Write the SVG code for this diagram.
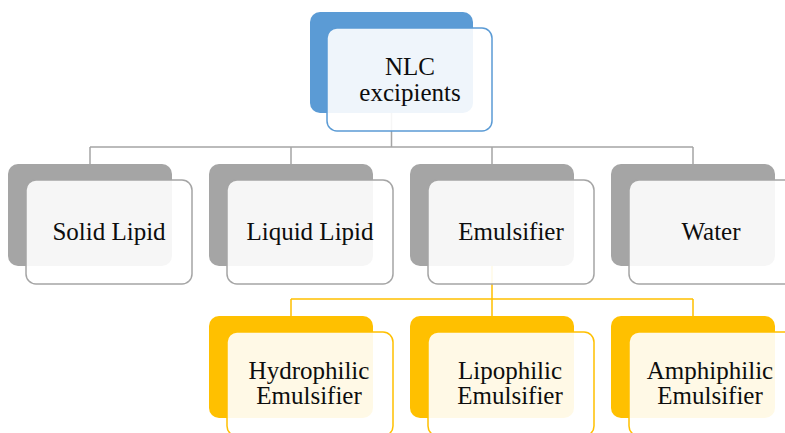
<svg xmlns="http://www.w3.org/2000/svg" width="785" height="433" viewBox="0 0 785 433">
  <style>
    .back { stroke: none; }
    .front { fill: #ffffff; fill-opacity: 0.9; stroke-width: 1.5; }
    .blue .back { fill: #5b9bd5; }
    .blue .front { stroke: #5b9bd5; }
    .grey .back { fill: #a5a5a5; }
    .grey .front { stroke: #a5a5a5; }
    .gold .back { fill: #ffc000; }
    .gold .front { stroke: #ffc000; }
    .conn { fill: none; stroke-width: 1.5; }
    .conn.grey-line { stroke: #a5a5a5; }
    .conn.gold-line { stroke: #ffc000; }
  </style>

  <!-- connectors -->
  <g id="connectors">
    <path class="conn grey-line" d="M391.5 113 V147 M90 147 H693 M90 147 V164 M291 147 V164 M492 147 V164 M693 147 V164"/>
    <path class="conn gold-line" d="M492 266 V299 M291 299 H693 M291 299 V316 M492 299 V316 M693 299 V316"/>
  </g>

  <g font-family="Liberation Serif, Times New Roman, serif" font-size="25" fill="#0d0d0d" text-anchor="middle">
    <!-- root -->
    <g id="node-nlc" class="blue">
      <rect class="back" x="310" y="12" width="163" height="101" rx="10"/>
      <rect class="front" x="327" y="28" width="165" height="103" rx="10"/>
      <text x="410" y="75">NLC</text>
      <text x="410" y="101">excipients</text>
    </g>

    <!-- second level -->
    <g id="node-solid-lipid" class="grey">
      <rect class="back" x="8" y="164" width="164" height="102" rx="10"/>
      <rect class="front" x="26" y="180" width="166" height="104" rx="10"/>
      <text x="109" y="240">Solid Lipid</text>
    </g>
    <g id="node-liquid-lipid" class="grey">
      <rect class="back" x="209" y="164" width="164" height="102" rx="10"/>
      <rect class="front" x="227" y="180" width="166" height="104" rx="10"/>
      <text x="310" y="240">Liquid Lipid</text>
    </g>
    <g id="node-emulsifier" class="grey">
      <rect class="back" x="410" y="164" width="164" height="102" rx="10"/>
      <rect class="front" x="428" y="180" width="166" height="104" rx="10"/>
      <text x="511" y="240">Emulsifier</text>
    </g>
    <g id="node-water" class="grey">
      <rect class="back" x="611" y="164" width="164" height="102" rx="10"/>
      <rect class="front" x="629" y="180" width="166" height="104" rx="10"/>
      <text x="711" y="240">Water</text>
    </g>

    <!-- emulsifier types -->
    <g id="node-hydrophilic" class="gold">
      <rect class="back" x="209" y="316" width="164" height="102" rx="10"/>
      <rect class="front" x="227" y="332" width="166" height="104" rx="10"/>
      <text x="309" y="379">Hydrophilic</text>
      <text x="309" y="404">Emulsifier</text>
    </g>
    <g id="node-lipophilic" class="gold">
      <rect class="back" x="410" y="316" width="164" height="102" rx="10"/>
      <rect class="front" x="428" y="332" width="166" height="104" rx="10"/>
      <text x="510" y="379">Lipophilic</text>
      <text x="510" y="404">Emulsifier</text>
    </g>
    <g id="node-amphiphilic" class="gold">
      <rect class="back" x="611" y="316" width="164" height="102" rx="10"/>
      <rect class="front" x="629" y="332" width="166" height="104" rx="10"/>
      <text x="710" y="379">Amphiphilic</text>
      <text x="710" y="404">Emulsifier</text>
    </g>
  </g>
</svg>
